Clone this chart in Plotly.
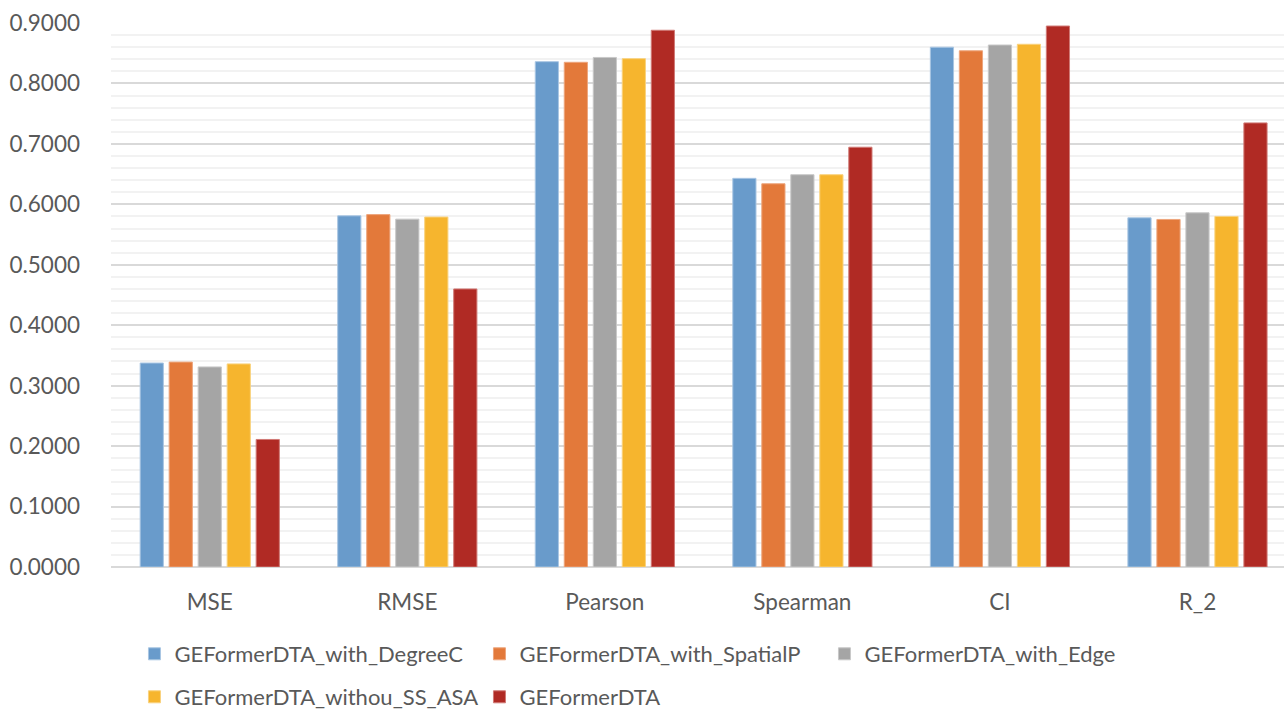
import plotly.graph_objects as go

# Evaluation metrics on the x axis
metrics = ["MSE", "RMSE", "Pearson", "Spearman", "CI", "R_2"]

# Ablation variants and their scores per metric
with_degree_c = [0.3375, 0.5810, 0.8360, 0.6430, 0.8600, 0.5777]
with_spatial_p = [0.3390, 0.5830, 0.8350, 0.6340, 0.8540, 0.5750]
with_edge = [0.3310, 0.5755, 0.8430, 0.6490, 0.8636, 0.5860]
without_ss_asa = [0.3360, 0.5790, 0.8410, 0.6490, 0.8648, 0.5800]
geformer_dta = [0.2110, 0.4600, 0.8880, 0.6945, 0.8950, 0.7347]

series_names = [
    "GEFormerDTA_with_DegreeC",
    "GEFormerDTA_with_SpatialP",
    "GEFormerDTA_with_Edge",
    "GEFormerDTA_withou_SS_ASA",
    "GEFormerDTA",
]
series_values = [with_degree_c, with_spatial_p, with_edge, without_ss_asa, geformer_dta]
fill_colors = ["#699BCB", "#E3793A", "#A5A5A5", "#F6B52E", "#B02A24"]
edge_colors = ["#A9C6E3", "#EDA57C", "#C8C8C8", "#F9D27E", "#D07A76"]
legend_slots = ["legend", "legend", "legend", "legend2", "legend2"]

FONT = "Lato, 'Open Sans', sans-serif"
TEXT_COLOR = "#595959"

fig = go.Figure()
for name, vals, fc, ec, lg in zip(series_names, series_values, fill_colors, edge_colors, legend_slots):
    fig.add_trace(go.Bar(
        x=metrics, y=vals, name=name, legend=lg,
        marker=dict(color=fc, line=dict(color=ec, width=1)),
    ))

legend_common = dict(
    orientation="h", xref="paper", yref="container", xanchor="left", yanchor="middle",
    font=dict(family=FONT, size=22, color=TEXT_COLOR),
    itemwidth=30, entrywidth=300, bgcolor="rgba(0,0,0,0)",
    traceorder="normal",
)

fig.update_layout(
    width=1284, height=712,
    margin=dict(l=111, r=0, t=23, b=145),
    paper_bgcolor="white", plot_bgcolor="white",
    barmode="group", bargap=0.266, bargroupgap=0.2,
    font=dict(family=FONT, size=22.5, color=TEXT_COLOR),
    legend=dict(x=0.02, y=1 - 654 / 712, **legend_common),
    legend2=dict(x=0.02, y=1 - 697 / 712, **legend_common),
    xaxis=dict(
        range=[-0.5, 5.438], showgrid=False, showline=False, zeroline=False,
        tickfont=dict(family=FONT, size=22.5, color=TEXT_COLOR),
        ticks="", ticklabelstandoff=19,
    ),
    yaxis=dict(
        range=[0, 0.9], dtick=0.1, tickformat=".4f",
        showgrid=True, gridcolor="#D9D9D9", gridwidth=1.5,
        zeroline=True, zerolinecolor="#D9D9D9", zerolinewidth=1.5,
        minor=dict(dtick=0.02, showgrid=True, gridcolor="#F2F2F2", gridwidth=1.5),
        showline=False, ticks="",
        tickfont=dict(family=FONT, size=22.5, color=TEXT_COLOR),
        ticklabelstandoff=30,
    ),
)

fig.write_html("out.html")
